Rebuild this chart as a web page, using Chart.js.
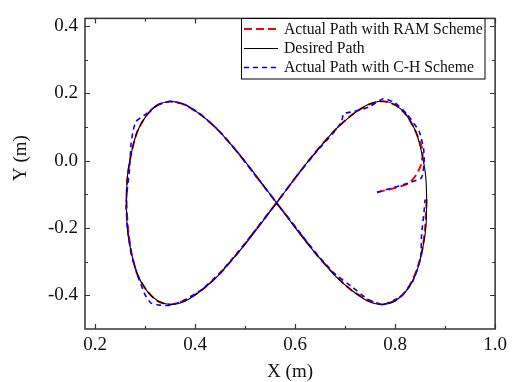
<!DOCTYPE html>
<html>
<head>
<meta charset="utf-8">
<script src="https://cdn.jsdelivr.net/npm/chart.js@4/dist/chart.umd.min.js"></script>
<style>
  html, body { margin: 0; padding: 0; background: #fff; }
  #wrap { width: 512px; height: 382px; }
</style>
</head>
<body>
<div id="wrap"><canvas id="c"></canvas></div>
<script>
// axis ticks
const xMajor = [0.2, 0.4, 0.6, 0.8, 1.0];
const xMinor = [0.3, 0.5, 0.7, 0.9];
const yMajor = [-0.4, -0.2, 0.0, 0.2, 0.4];
const yMinor = [-0.3, -0.1, 0.1, 0.3];

const labels = ['Actual Path with RAM Scheme', 'Desired Path', 'Actual Path with C-H Scheme'];

// desired figure-eight path
const desiredX = [0.563, 0.641, 0.713, 0.775, 0.823, 0.853, 0.863, 0.853, 0.823, 0.775, 0.713, 0.641, 0.563,
  0.485, 0.413, 0.351, 0.303, 0.273, 0.263, 0.273, 0.303, 0.351, 0.413, 0.485, 0.563];
const desiredY = [-0.125, 0.025, 0.135, 0.177, 0.135, 0.025, -0.125, -0.275, -0.385, -0.427, -0.385, -0.275, -0.125,
  0.025, 0.135, 0.176, 0.135, 0.025, -0.125, -0.275, -0.385, -0.427, -0.385, -0.275, -0.125];

// actual path, RAM scheme
const ramX = [0.764, 0.828, 0.850, 0.855, 0.840, 0.823, 0.801, 0.775, 0.746, 0.713, 0.678, 0.641, 0.602, 0.563,
  0.524, 0.485, 0.448, 0.413, 0.380, 0.351, 0.325, 0.303, 0.285, 0.273, 0.266, 0.263, 0.265, 0.273, 0.285, 0.303,
  0.325, 0.351, 0.380, 0.413, 0.448, 0.485, 0.524, 0.563, 0.602, 0.641, 0.678, 0.713, 0.746, 0.775, 0.801, 0.823,
  0.840, 0.853, 0.860, 0.863];
const ramY = [-0.094, -0.066, -0.020, 0.030, 0.090, 0.135, 0.165, 0.177, 0.166, 0.136, 0.088, 0.026, -0.048, -0.125,
  -0.200, -0.275, -0.338, -0.385, -0.414, -0.427, -0.417, -0.385, -0.339, -0.275, -0.200, -0.125, -0.050, 0.025, 0.088, 0.135,
  0.165, 0.176, 0.166, 0.135, 0.088, 0.025, -0.050, -0.125, -0.200, -0.275, -0.337, -0.385, -0.414, -0.427, -0.414, -0.385,
  -0.337, -0.275, -0.200, -0.115];

// actual path, C-H scheme
const chX = [0.764, 0.852, 0.858, 0.857, 0.848, 0.824, 0.800, 0.777, 0.748, 0.718, 0.697, 0.693, 0.675, 0.641, 0.602,
  0.563, 0.524, 0.485, 0.448, 0.413, 0.380, 0.350, 0.330, 0.312, 0.300, 0.285, 0.272, 0.265, 0.262, 0.269, 0.272,
  0.276, 0.282, 0.303, 0.325, 0.351, 0.380, 0.413, 0.448, 0.485, 0.524, 0.563, 0.602, 0.641, 0.678, 0.715, 0.746,
  0.775, 0.801, 0.814, 0.835, 0.851, 0.853, 0.858, 0.860];
const chY = [-0.094, -0.052, -0.005, 0.035, 0.088, 0.138, 0.172, 0.185, 0.160, 0.146, 0.140, 0.115, 0.080, 0.024, -0.048,
  -0.125, -0.200, -0.273, -0.336, -0.383, -0.413, -0.430, -0.429, -0.423, -0.398, -0.340, -0.275, -0.200, -0.125, -0.027, 0.049,
  0.088, 0.117, 0.140, 0.166, 0.177, 0.167, 0.136, 0.089, 0.026, -0.050, -0.125, -0.199, -0.273, -0.334, -0.376, -0.412,
  -0.428, -0.412, -0.401, -0.360, -0.290, -0.220, -0.150, -0.115];

const pts = (xs, ys) => xs.map((x, i) => ({x: x, y: ys[i]}));

const SERIF = '"Liberation Serif", "Times New Roman", serif';
const styles = [
  {color: '#ff0000', width: 2, dash: [8, 4]},
  {color: '#000000', width: 1.1, dash: []},
  {color: '#0000ff', width: 1.6, dash: [5, 4]}
];

const framePlugin = {
  id: 'frame',
  afterDraw(chart) {
    const ctx = chart.ctx;
    const a = chart.chartArea;
    const xs = chart.scales.x, ys = chart.scales.y;
    ctx.save();
    ctx.strokeStyle = '#333';
    ctx.lineWidth = 1.5;
    ctx.setLineDash([]);
    ctx.strokeRect(a.left, a.top, a.right - a.left, a.bottom - a.top);
    ctx.lineWidth = 1.2;
    const xt = (vals, len) => vals.forEach(v => {
      const p = Math.round(xs.getPixelForValue(v)) + 0.5;
      ctx.beginPath();
      ctx.moveTo(p, a.bottom); ctx.lineTo(p, a.bottom - len);
      ctx.moveTo(p, a.top); ctx.lineTo(p, a.top + len);
      ctx.stroke();
    });
    const yt = (vals, len) => vals.forEach(v => {
      const p = Math.round(ys.getPixelForValue(v)) + 0.5;
      ctx.beginPath();
      ctx.moveTo(a.left, p); ctx.lineTo(a.left + len, p);
      ctx.moveTo(a.right, p); ctx.lineTo(a.right - len, p);
      ctx.stroke();
    });
    xt(xMajor, 5); xt(xMinor, 3);
    yt(yMajor, 5); yt(yMinor, 3);

    // axis titles
    ctx.fillStyle = '#111';
    ctx.font = '19px ' + SERIF;
    ctx.textAlign = 'center';
    ctx.textBaseline = 'middle';
    ctx.fillText('X (m)', (a.left + a.right) / 2, 372);
    ctx.save();
    ctx.translate(21, 158);
    ctx.rotate(-Math.PI / 2);
    ctx.fillText('Y (m)', 0, 0);
    ctx.restore();

    // legend
    const bx = 241.5, by = 18.5, bw = 243.5, bh = 60.5;
    ctx.fillStyle = '#fff';
    ctx.fillRect(bx, by, bw, bh);
    ctx.strokeStyle = '#000';
    ctx.lineWidth = 1;
    ctx.strokeRect(bx, by, bw, bh);
    const rows = [29, 48.5, 67.5];
    ctx.font = '15.7px ' + SERIF;
    ctx.textAlign = 'left';
    labels.forEach((t, i) => {
      const s = styles[i];
      ctx.strokeStyle = s.color;
      ctx.lineWidth = s.width;
      ctx.setLineDash(s.dash);
      ctx.beginPath();
      ctx.moveTo(244, rows[i]); ctx.lineTo(278, rows[i]);
      ctx.stroke();
      ctx.setLineDash([]);
      ctx.fillStyle = '#111';
      ctx.fillText(t, 284, rows[i] + 0.5);
    });
    ctx.restore();
  }
};

const tickFont = {family: SERIF, size: 19};

new Chart(document.getElementById('c'), {
  type: 'scatter',
  data: {
    datasets: [
      {label: labels[0], data: pts(ramX, ramY), showLine: true, borderColor: styles[0].color, borderWidth: styles[0].width,
        borderDash: styles[0].dash, pointRadius: 0, tension: 0.25, fill: false, order: 3},
      {label: labels[1], data: pts(desiredX, desiredY), showLine: true, borderColor: styles[1].color, borderWidth: styles[1].width,
        pointRadius: 0, tension: 0.4, fill: false, order: 2},
      {label: labels[2], data: pts(chX, chY), showLine: true, borderColor: styles[2].color, borderWidth: styles[2].width,
        borderDash: styles[2].dash, pointRadius: 0, tension: 0.15, fill: false, order: 1}
    ]
  },
  options: {
    responsive: true,
    maintainAspectRatio: false,
    animation: false,
    devicePixelRatio: 1,
    layout: {padding: {left: 0, right: 12, top: 6, bottom: 0}},
    plugins: {legend: {display: false}, tooltip: {enabled: false}},
    scales: {
      x: {
        type: 'linear', min: 0.18, max: 1.0,
        afterBuildTicks: s => { s.ticks = xMajor.map(v => ({value: v})); },
        afterFit: s => { s.height = 53; },
        ticks: {callback: v => v.toFixed(1), font: tickFont, color: '#111', padding: 5, maxRotation: 0, autoSkip: false},
        grid: {display: false, drawTicks: false},
        border: {display: false}
      },
      y: {
        type: 'linear', min: -0.5, max: 0.423,
        afterBuildTicks: s => { s.ticks = yMajor.map(v => ({value: v})); },
        afterFit: s => { s.width = 85; },
        ticks: {callback: v => v.toFixed(1), font: tickFont, color: '#111', padding: 7, autoSkip: false},
        grid: {display: false, drawTicks: false},
        border: {display: false}
      }
    }
  },
  plugins: [framePlugin]
});
</script>
</body>
</html>
